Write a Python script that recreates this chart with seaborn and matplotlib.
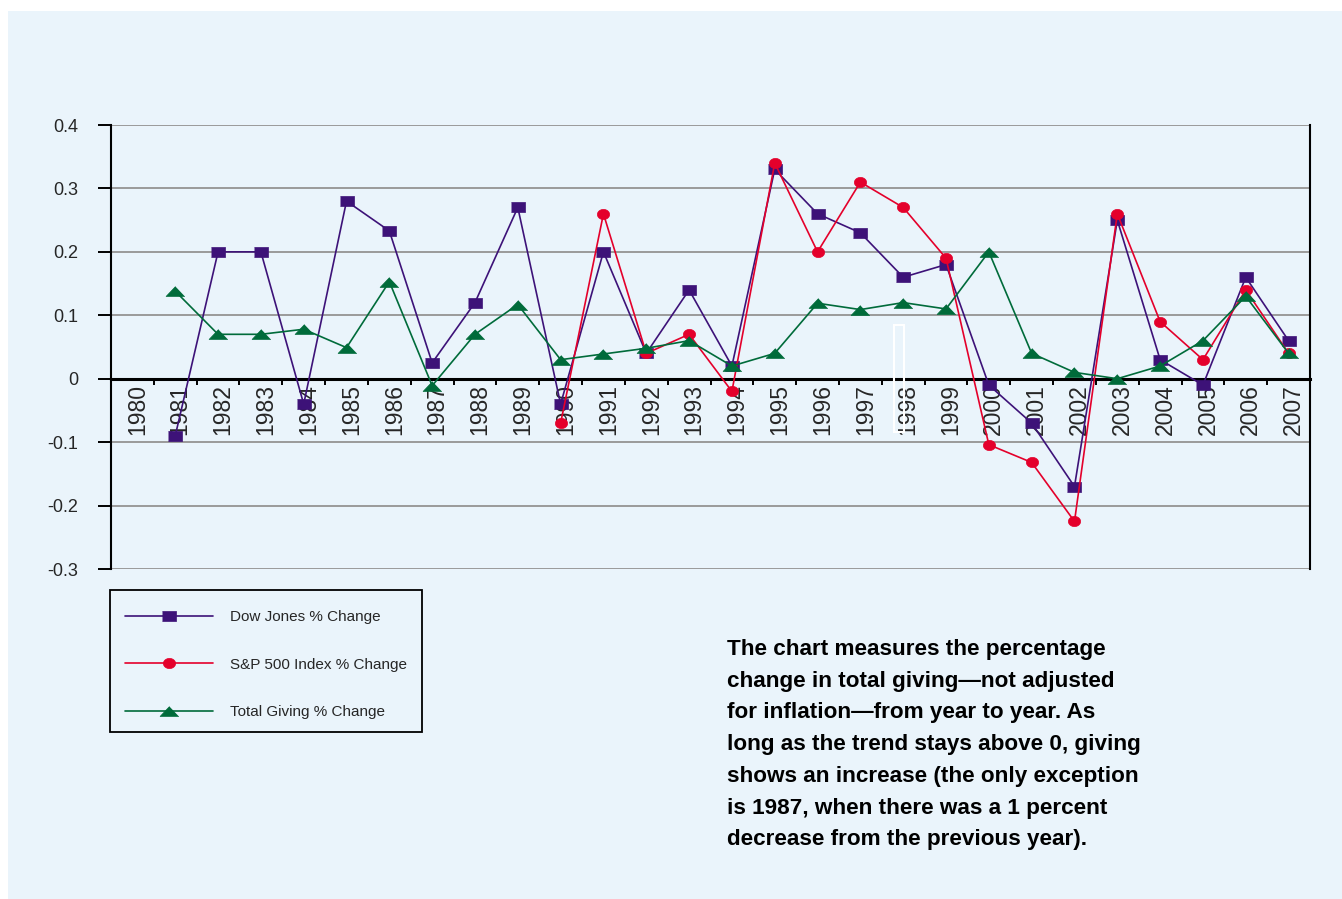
import numpy as np
import pandas as pd
import matplotlib
matplotlib.use("Agg")
import matplotlib.pyplot as plt
import matplotlib.transforms as mtransforms
from matplotlib.patches import Rectangle
from matplotlib.lines import Line2D
import seaborn as sns

# Year-over-year % change (as fractions), 1980-2007
years = list(range(1980, 2008))
nan = np.nan
dow_jones = [nan, -0.09, 0.20, 0.20, -0.04, 0.28, 0.233, 0.025, 0.12, 0.27,
             -0.04, 0.20, 0.04, 0.14, 0.02, 0.33, 0.26, 0.23, 0.16, 0.18,
             -0.01, -0.07, -0.17, 0.25, 0.03, -0.01, 0.16, 0.06]
sp500 = [nan] * 10 + [-0.07, 0.26, 0.04, 0.07, -0.02, 0.34, 0.20, 0.31, 0.27, 0.19,
                      -0.104, -0.132, -0.225, 0.26, 0.09, 0.03, 0.14, 0.04]
total_giving = [nan, 0.138, 0.07, 0.07, 0.078, 0.049, 0.153, -0.011, 0.07, 0.117,
                0.03, 0.039, 0.048, 0.06, 0.02, 0.04, 0.119, 0.109, 0.12, 0.11,
                0.20, 0.04, 0.01, 0.0, 0.02, 0.06, 0.13, 0.04]
series_names = ["Dow Jones % Change", "S&P 500 Index % Change", "Total Giving % Change"]
y_ticks = [-0.3, -0.2, -0.1, 0, 0.1, 0.2, 0.3, 0.4]
note = ("The chart measures the percentage\n"
        "change in total giving\u2014not adjusted\n"
        "for inflation\u2014from year to year. As\n"
        "long as the trend stays above 0, giving\n"
        "shows an increase (the only exception\n"
        "is 1987, when there was a 1 percent\n"
        "decrease from the previous year).")

df = pd.DataFrame({"year": years, series_names[0]: dow_jones,
                   series_names[1]: sp500, series_names[2]: total_giving})

bg = "#eaf4fb"
colors = ["#3d1278", "#e4002b", "#006b3a"]

# marker shapes (the original export is stretched sideways)
rect = [(-0.75, -0.5), (0.75, -0.5), (0.75, 0.5), (-0.75, 0.5)]
t = np.linspace(0, 2 * np.pi, 40)
ellipse = list(zip(0.6 * np.cos(t), 0.5 * np.sin(t)))
tri = [(0, 0.5), (-0.95, -0.5), (0.95, -0.5)]
markers = [rect, ellipse, tri]
msizes = [10.5, 8.8, 13.5]

sns.set_style("white")
plt.rcParams["font.family"] = ["Liberation Sans", "DejaVu Sans"]

fig = plt.figure(figsize=(13.42, 8.99), dpi=100)
fig.patch.set_facecolor("white")
fig.patches.append(Rectangle((8 / 1342, 0), 1, 1 - 11 / 899, transform=fig.transFigure,
                             facecolor=bg, edgecolor="none", zorder=-10))

ax = fig.add_axes([111 / 1342, 1 - 569 / 899, (1310 - 111) / 1342, (569 - 125) / 899])
ax.set_facecolor("none")

handles = []
for name, c, m, ms in zip(series_names, colors, markers, msizes):
    sns.lineplot(data=df, x="year", y=name, ax=ax, color=c, marker=m, markersize=ms,
                 markeredgecolor=c, markeredgewidth=0.5, linewidth=1.2, zorder=3)
    handles.append(Line2D([], [], color=c, marker=m, markersize=ms, markeredgecolor=c,
                          markeredgewidth=0.5, linewidth=1.2, label=name))

ax.set_xlim(years[0] - 0.5, years[-1] + 0.5)
ax.set_ylim(y_ticks[0], y_ticks[-1])
ax.set_xlabel("")
ax.set_ylabel("")

# gridlines
ax.set_yticks(y_ticks)
ax.set_yticklabels(["0" if v == 0 else f"{v:g}" for v in y_ticks], fontsize=13)
for v in y_ticks:
    if v != 0:
        ax.axhline(v, color="#9a9a9a", linewidth=1.4, zorder=1)
ax.tick_params(axis="y", length=9.5, width=1.4, color="black", pad=14, direction="out", left=True)

# category axis crossing at zero
ax.spines["bottom"].set_position(("data", 0))
ax.spines["bottom"].set_linewidth(2.2)
ax.spines["bottom"].set_color("black")
ax.spines["bottom"].set_zorder(2)
ax.spines["left"].set_linewidth(1.5)
ax.spines["left"].set_color("black")
ax.spines["right"].set_linewidth(1.5)
ax.spines["right"].set_color("black")
ax.spines["top"].set_visible(False)

ax.set_xticks(years)
ax.set_xticklabels([str(y) for y in years], rotation=90, fontsize=16.5)
ax.set_xticks([y + 0.5 for y in years[:-1]], minor=True)
ax.tick_params(axis="x", which="major", length=0, pad=4, bottom=True)
ax.tick_params(axis="x", which="minor", length=4, width=1.4, color="black", bottom=True)
shift = mtransforms.ScaledTranslation(5 / 100, 0, fig.dpi_scale_trans)
for lbl in ax.get_xticklabels():
    lbl.set_transform(lbl.get_transform() + shift)

# stray white outline box in the original export
fig.patches.append(Rectangle((894 / 1342, 1 - 432 / 899), 10 / 1342, 107 / 899,
                             transform=fig.transFigure, facecolor="none",
                             edgecolor="white", linewidth=1.5, zorder=5))

# legend box drawn separately so its padding can match the original
fig.patches.append(Rectangle((110 / 1342, 1 - 732 / 899), 312 / 1342, 142 / 899,
                             transform=fig.transFigure, facecolor="none",
                             edgecolor="black", linewidth=1.3, zorder=4))
fig.legend(handles=handles, loc="upper left",
           bbox_to_anchor=(125 / 1342, 1 - 610 / 899),
           prop={"size": 11}, frameon=False, handlelength=5.75, handletextpad=1.1,
           labelspacing=2.2, borderpad=0, borderaxespad=0)

fig.text(727 / 1342, 1 - 639 / 899, note, fontsize=16.2, fontweight="bold",
         va="top", ha="left", linespacing=1.67, color="black")

fig.savefig("out.png", dpi=100, facecolor=fig.get_facecolor())
